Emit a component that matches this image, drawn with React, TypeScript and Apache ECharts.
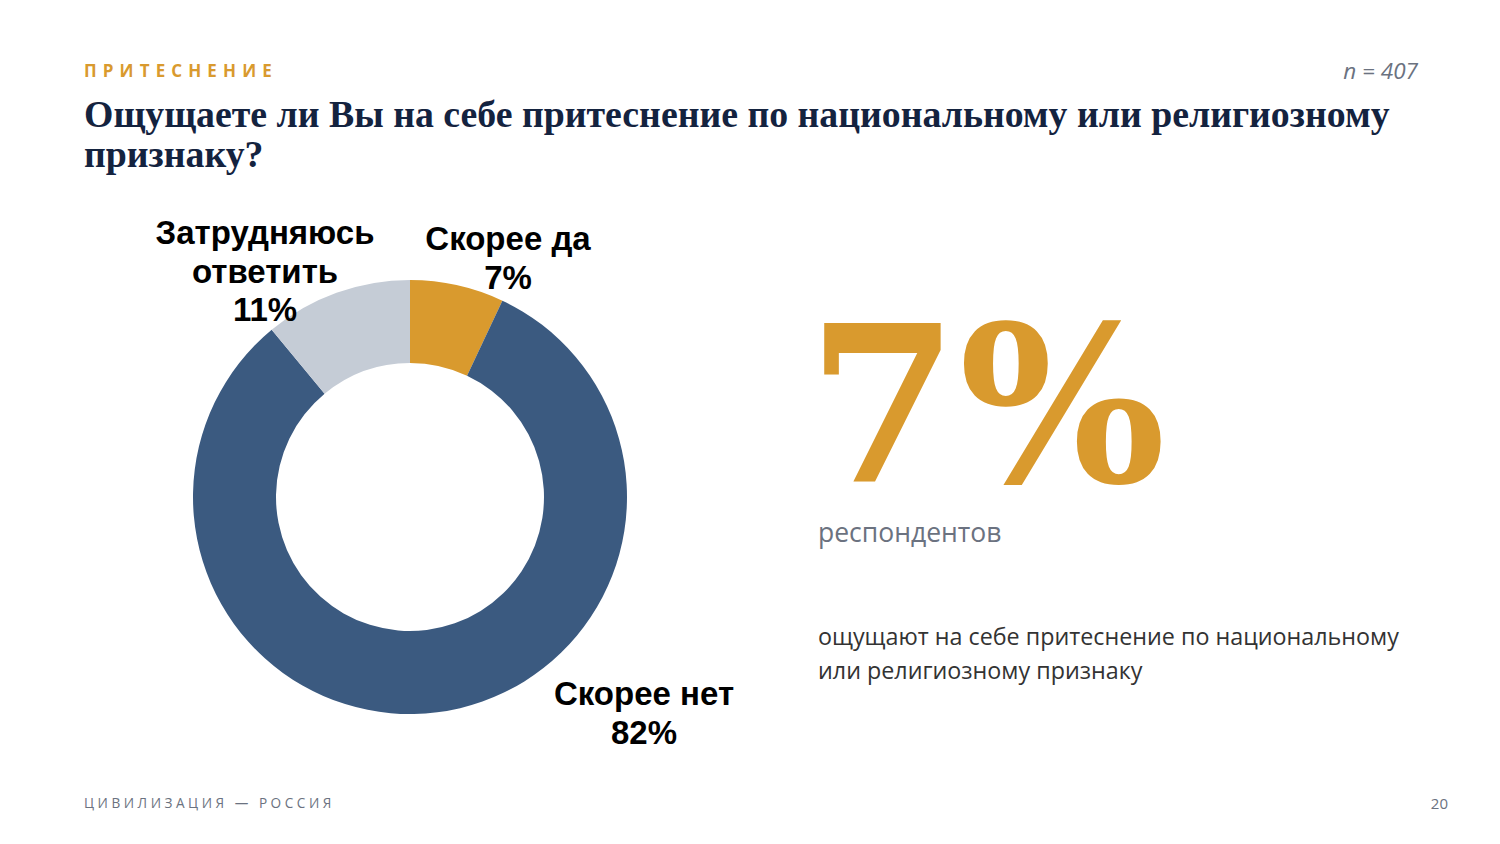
import React, { useEffect, useRef } from "react";
import * as echarts from "echarts";

const categories = ["Скорее да", "Скорее нет", "Затрудняюсь\nответить"];
const values = [7, 82, 11];
const colors = ["#D99A2E", "#3B5A80", "#C5CCD6"];

const kicker = "ПРИТЕСНЕНИЕ";
const titleLines = [
  "Ощущаете ли Вы на себе притеснение по национальному или религиозному",
  "признаку?",
];
const sampleText = "n = 407";
const bigValue = "7%";
const bigCaption = "респондентов";
const descLines = [
  "ощущают на себе притеснение по национальному",
  "или религиозному признаку",
];
const footerText = "ЦИВИЛИЗАЦИЯ — РОССИЯ";
const pageNumber = "20";

const spaced = (s: string, gap: string) => s.split("").join(gap);

const labelPos: Record<number, [number, number]> = {
  0: [508, 258],
  1: [644, 713],
  2: [265, 271],
};

export default function App() {
  const ref = useRef<HTMLDivElement>(null);
  useEffect(() => {
    if (!ref.current) return;
    const chart = echarts.init(ref.current, undefined, { renderer: "svg" });
    chart.setOption({
      animation: false,
      backgroundColor: "#ffffff",
      series: [
        {
          type: "pie",
          center: [410, 497],
          radius: [134, 217],
          startAngle: 90,
          clockwise: true,
          avoidLabelOverlap: false,
          data: categories.map((c, i) => ({
            name: c,
            value: values[i],
            itemStyle: { color: colors[i] },
          })),
          label: {
            show: true,
            position: "outside",
            formatter: (p: any) => `${p.name}\n${p.value}%`,
            fontFamily: "Liberation Sans, Arial, sans-serif",
            fontWeight: "bold",
            fontSize: 33,
            lineHeight: 38.5,
            color: "#000000",
            align: "center",
          },
          labelLine: { show: false },
          labelLayout: (params: any) => {
            const p = labelPos[params.dataIndex];
            return { x: p[0], y: p[1], align: "center", verticalAlign: "middle" };
          },
          emphasis: { disabled: true },
        },
      ],
      graphic: [
        {
          type: "text",
          left: 84,
          top: 62,
          style: {
            text: spaced(kicker, " \u200A"),
            fontFamily: "Open Sans, sans-serif",
            fontWeight: "bold",
            fontSize: 17,
            fill: "#D99A2E",
          },
        },
        {
          type: "text",
          right: 82,
          top: 59,
          style: {
            text: sampleText,
            fontFamily: "Open Sans, sans-serif",
            fontStyle: "italic",
            fontSize: 22.5,
            fill: "#6B7280",
          },
        },
        {
          type: "text",
          left: 84,
          top: 94,
          style: {
            text: titleLines.join("\n"),
            fontFamily: "Liberation Serif, serif",
            fontWeight: "bold",
            fontSize: 37.8,
            lineHeight: 40,
            fill: "#14233F",
          },
        },
        {
          type: "text",
          left: 807,
          top: 296,
          style: {
            text: bigValue,
            fontFamily: "DejaVu Serif, serif",
            fontWeight: "bold",
            fontSize: 218,
            fill: "#D99A2E",
          },
        },
        {
          type: "text",
          left: 818,
          top: 518,
          style: {
            text: bigCaption,
            fontFamily: "Open Sans, sans-serif",
            fontSize: 26.5,
            fill: "#6B7280",
          },
        },
        {
          type: "text",
          left: 818,
          top: 619,
          style: {
            text: descLines.join("\n"),
            fontFamily: "Open Sans, sans-serif",
            fontSize: 23.3,
            lineHeight: 34,
            fill: "#333333",
          },
        },
        {
          type: "text",
          left: 84,
          top: 795,
          style: {
            text: spaced(footerText, " "),
            fontFamily: "Open Sans, sans-serif",
            fontSize: 13.6,
            fill: "#6B7280",
          },
        },
        {
          type: "text",
          right: 52,
          top: 795,
          style: {
            text: pageNumber,
            fontFamily: "Open Sans, sans-serif",
            fontSize: 15,
            fill: "#6B7280",
          },
        },
      ],
    });
    return () => chart.dispose();
  }, []);
  return (
    <div
      ref={ref}
      style={{
        position: "fixed",
        left: 0,
        top: 0,
        width: 1500,
        height: 844,
        background: "#ffffff",
      }}
    />
  );
}
